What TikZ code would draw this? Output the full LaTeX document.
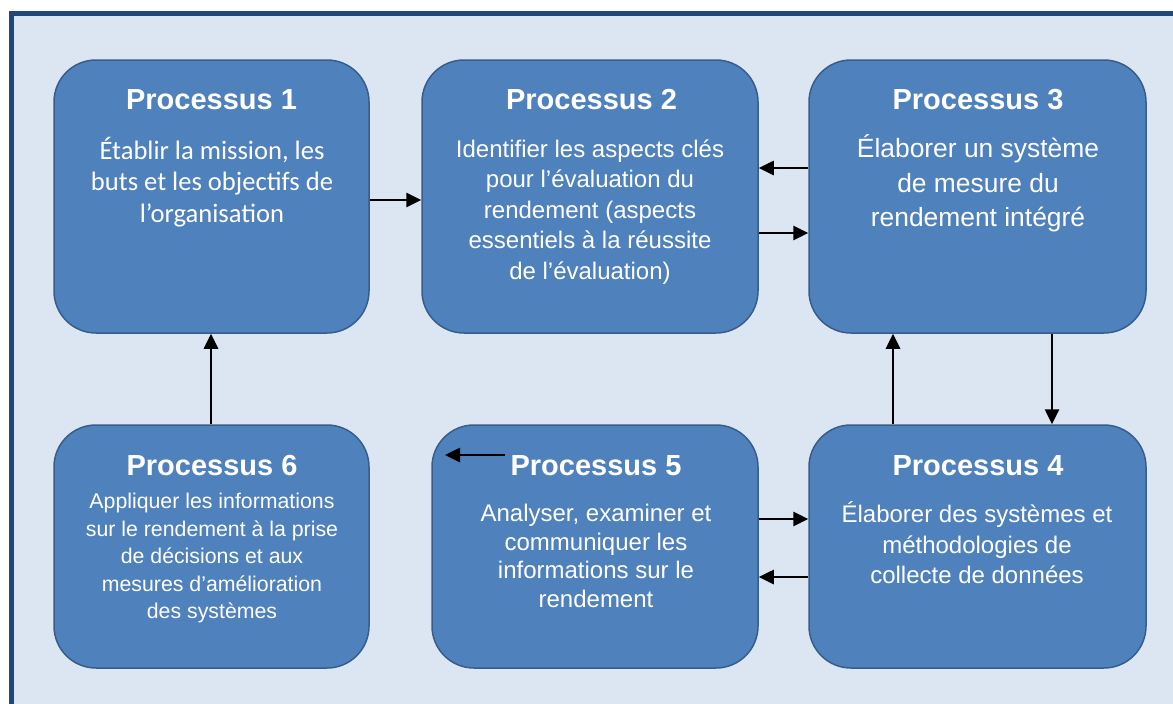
\documentclass[tikz,border=0pt]{standalone}
\usepackage{fontspec}
\setmainfont{Liberation Sans}
\newfontfamily\calibrifont{Carlito}
\usetikzlibrary{arrows.meta}
\definecolor{framecol}{RGB}{31,73,125}
\definecolor{bgcol}{RGB}{220,230,242}
\definecolor{boxfill}{RGB}{79,129,189}
\definecolor{boxline}{RGB}{56,93,138}
\tikzset{
  procbox/.style={draw=boxline, line width=1.5pt, fill=boxfill, rounded corners=42pt, inner sep=0pt},
  head/.style={text=white, inner sep=0pt, font=\fontsize{29}{33}\selectfont\bfseries},
  body/.style={text=white, inner sep=0pt, align=center},
  arr/.style={line width=2.6pt, -{Triangle[length=15pt 0,width=14pt 0]}},
}
\begin{document}
\begin{tikzpicture}[x=1pt,y=-1pt]
\useasboundingbox (0,0) rectangle (1173,704);
\clip (0,0) rectangle (1173,704);
\draw[line width=5pt, draw=framecol, fill=bgcol] (11.5,13.5) rectangle (1200,730);
% boxes
\node[procbox, minimum width=315pt, minimum height=273pt] (p1) at (211.5,196.5) {};
\node[procbox, minimum width=336pt, minimum height=273pt] (p2) at (590,196.5) {};
\node[procbox, minimum width=337pt, minimum height=273pt] (p3) at (977.5,196.5) {};
\node[procbox, minimum width=315pt, minimum height=243pt] (p6) at (211.5,546.5) {};
\node[procbox, minimum width=326pt, minimum height=243pt] (p5) at (595,546.5) {};
\node[procbox, minimum width=337pt, minimum height=243pt] (p4) at (977.5,546.5) {};
% headings
\node[head] (h1) at (211.5,100) {Processus 1};
\node[head] (h2) at (591.5,100) {Processus 2};
\node[head] (h3) at (978,100) {Processus 3};
\node[head] (h6) at (212,466) {Processus 6};
\node[head] (h5) at (596,466) {Processus 5};
\node[head] (h4) at (978,466) {Processus 4};
% bodies
\node[body, font=\calibrifont\fontsize{26.6}{31.5}\selectfont] (b1) at (212,182)
  {Établir la mission, les\\buts et les objectifs de\\l’organisation};
\node[body, font=\fontsize{24}{30.5}\selectfont] (b2) at (590,212)
  {Identifier les aspects clés\\pour l’évaluation du\\rendement (aspects\\essentiels à la réussite\\de l’évaluation)};
\node[body, font=\fontsize{26.4}{34.5}\selectfont] (b3) at (978,183.5)
  {Élaborer un système\\de mesure du\\rendement intégré};
\node[body, font=\fontsize{24}{30.5}\selectfont] (b4) at (977,543)
  {Élaborer des systèmes et\\méthodologies de\\collecte de données};
\node[body, font=\fontsize{24}{28.7}\selectfont] (b5) at (596,556)
  {Analyser, examiner et\\communiquer les\\informations sur le\\rendement};
\node[body, font=\fontsize{21.3}{27.5}\selectfont] (b6) at (212,558)
  {Appliquer les informations\\sur le rendement à la prise\\de décisions et aux\\mesures d’amélioration\\des systèmes};
% row/column helper coordinates
\coordinate (r200) at (0,200);
\coordinate (r168) at (0,168);
\coordinate (r233) at (0,233);
\coordinate (r519) at (0,519);
\coordinate (r577) at (0,577);
\coordinate (c211) at (211,0);
\coordinate (c893) at (893,0);
\coordinate (c1052) at (1052,0);
\coordinate (a5s) at (505,455);
\coordinate (a5e) at (445,455);
% connectors
\draw[arr] (p1.east |- r200) -- (p2.west |- r200);
\draw[arr] (p3.west |- r168) -- (p2.east |- r168);
\draw[arr] (p2.east |- r233) -- (p3.west |- r233);
\draw[arr] (c1052 |- p3.south) -- (c1052 |- p4.north);
\draw[arr] (c893 |- p4.north) -- (c893 |- p3.south);
\draw[arr] (p5.east |- r519) -- (p4.west |- r519);
\draw[arr] (p4.west |- r577) -- (p5.east |- r577);
\draw[arr] (c211 |- p6.north) -- (c211 |- p1.south);
\draw[arr] (a5s) -- (a5e);
\end{tikzpicture}
\end{document}
